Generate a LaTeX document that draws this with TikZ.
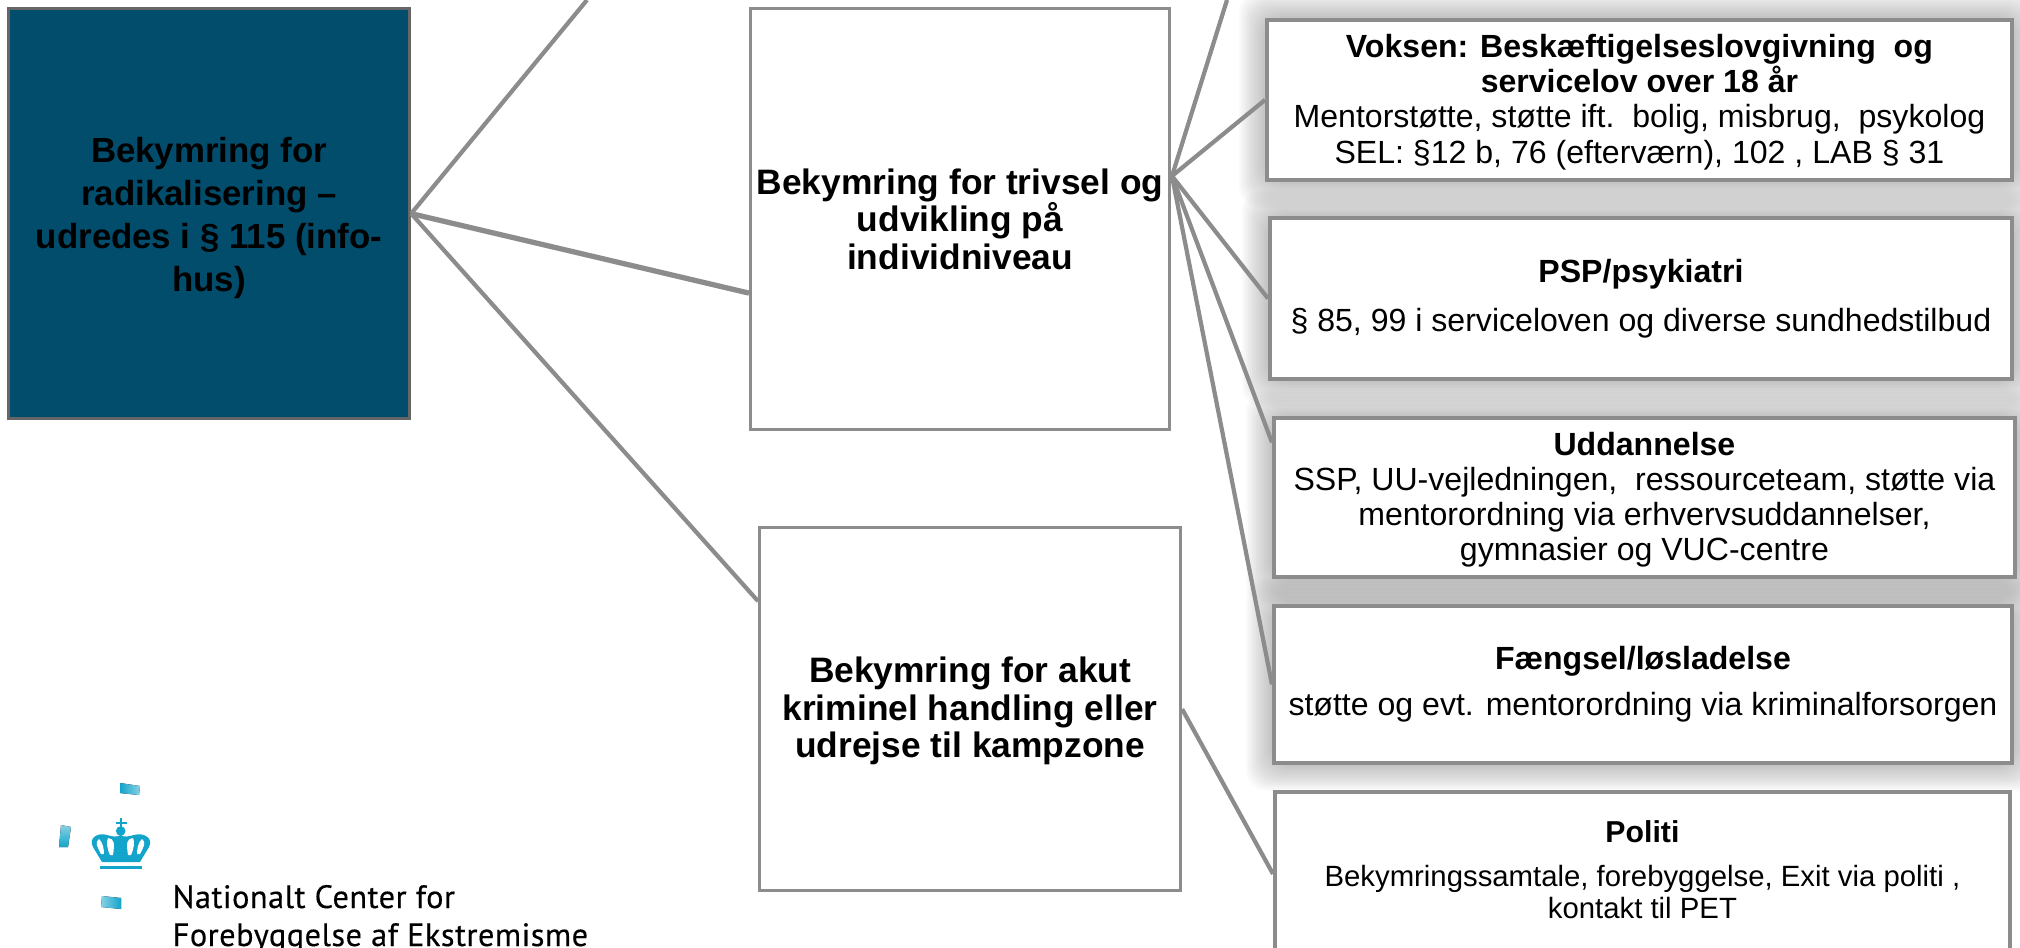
\documentclass[tikz,border=0pt]{standalone}
\usepackage{fontspec}
\setmainfont{Liberation Sans}
\newfontfamily\logofont[FakeBold=0.3, LetterSpace=1.5]{PT Sans}
\usepackage{tikz}
\usetikzlibrary{backgrounds}
\usetikzlibrary{calc}
\usetikzlibrary{positioning}

\definecolor{rootblue}{HTML}{024C6C}
\definecolor{boxgray}{HTML}{8C8C8C}
\definecolor{crownblue}{HTML}{12A4CB}

\tikzset{
	box/.style = {draw = boxgray, line width = 0.9pt, fill = white, align = center, inner sep = 0pt, anchor = north west},
	rootbox/.style = {box, draw = black!60, fill = rootblue, font = \bfseries\fontsize{9.9}{12.2}\selectfont},
	midbox/.style = {box, font = \bfseries\fontsize{10.05}{10.7}\selectfont},
	sidebox/.style = {box, line width = 1.1pt, font = \fontsize{9.12}{10}\selectfont},
	polbox/.style = {box, line width = 1.1pt, font = \fontsize{8.34}{9.1}\selectfont},
	link/.style = {draw = boxgray, line width = 1.2pt},
	logotext/.style = {font = \logofont\fontsize{9.2}{10.8}\selectfont, anchor = base west, inner sep = 0pt}
}

\newcommand{\glow}[1]{
	\foreach \g in {2,4,...,26} {
		\fill[black, opacity = 0.018, rounded corners = 6pt]
			($(#1.north west) + (-\g, -\g)$) rectangle ($(#1.south east) + (\g, \g)$);
	}
}

\begin{document}
\begin{tikzpicture}[x = 0.01cm, y = -0.01cm]
	\useasboundingbox (0, 0) rectangle (2020, 947);
	\clip (0, 0) rectangle (2020, 947);

	% Nodes
	\node[rootbox, minimum width = 401*0.01cm, minimum height = 410*0.01cm] (root) at (7, 7) {\rule{0pt}{9.7pt}Bekymring for\\radikalisering --\\udredes i § 115 (info-\\hus)};
	\node[midbox, minimum width = 419*0.01cm, minimum height = 421*0.01cm] (trivsel) at (749, 7) {Bekymring for trivsel og\\udvikling på\\individniveau};
	\node[midbox, minimum width = 421*0.01cm, minimum height = 363*0.01cm] (akut) at (758, 526) {\rule{0pt}{8.4pt}Bekymring for akut\\kriminel handling eller\\udrejse til kampzone};
	\node[sidebox, minimum width = 745*0.01cm, minimum height = 160*0.01cm] (voksen) at (1265, 18) {\rule{0pt}{7.8pt}\textbf{Voksen: Beskæftigelseslovgivning~~og}\\\textbf{servicelov over 18 år}\\Mentorstøtte, støtte ift.~~bolig, misbrug,~~psykolog\\SEL: §12 b, 76 (efterværn), 102 , LAB § 31};
	\node[sidebox, minimum width = 742*0.01cm, minimum height = 161*0.01cm] (psp) at (1268, 216) {\textbf{PSP/psykiatri}\\[4pt]§ 85, 99 i serviceloven og diverse sundhedstilbud};
	\node[sidebox, minimum width = 741*0.01cm, minimum height = 159*0.01cm] (uddannelse) at (1272, 416) {\rule{0pt}{8pt}\textbf{Uddannelse}\\SSP, UU-vejledningen,~~ressourceteam, støtte via\\mentorordning via erhvervsuddannelser,\\gymnasier og VUC-centre};
	\node[sidebox, minimum width = 738*0.01cm, minimum height = 157*0.01cm] (faengsel) at (1272, 604) {\textbf{Fængsel/løsladelse}\\[3pt]støtte og evt. mentorordning via kriminalforsorgen};
	\node[polbox, minimum width = 735*0.01cm, minimum height = 164*0.01cm] (politi) at (1273, 790) {\textbf{\fontsize{8.6}{9.1}\selectfont Politi}\\[3.6pt]Bekymringssamtale, forebyggelse, Exit via politi ,\\kontakt til PET\rule[-2.6pt]{0pt}{0pt}};

	% Shadows
	\begin{scope}[on background layer]
		\glow{voksen}
		\glow{psp}
		\glow{uddannelse}
		\glow{faengsel}
	\end{scope}

	% Edges
	\coordinate (upleft) at (587, 0);
	\coordinate (upright) at (1227, 0);
	\coordinate (fan) at (1172, 176);
	\draw[link] (root.east) to (upleft);
	\draw[link, line width = 1.5pt] (root.east) to ([yshift = -74*0.01cm]trivsel.west);
	\draw[link] (root.east) to ([yshift = 108*0.01cm]akut.west);
	\draw[link] (fan) to (upright);
	\draw[link] (fan) to (voksen.west);
	\draw[link] (fan) to (psp.west);
	\draw[link] (fan) to ([yshift = 55*0.01cm]uddannelse.west);
	\draw[link] (fan) to (faengsel.west);
	\draw[link] (akut.east) to (politi.west);

	% Logo
	\fill[left color = crownblue, right color = crownblue!50] (120, 783) to (140, 786) to (139, 795) to (120, 793) -- cycle;
	\fill[bottom color = crownblue, top color = crownblue!50] (61, 825) to (71, 827) to (68, 847) to (59, 847) -- cycle;
	\fill[left color = crownblue!50, right color = crownblue] (102, 896) to (121, 898) to (121, 909) to (101, 907) -- cycle;
	\fill[crownblue] (100, 866) rectangle (142, 869);
	\fill[crownblue] (119.5, 818) rectangle (122, 827);
	\fill[crownblue] (115.5, 821.5) rectangle (126.5, 824);
	\fill[crownblue] (120.7, 831) circle (4.8);
	\fill[crownblue] (102, 862) to (93, 847) .. controls (88, 838) and (98, 832) .. (107, 835)
		.. controls (112, 836) and (116, 838) .. (120.7, 835)
		.. controls (125, 838) and (129, 836) .. (134, 835)
		.. controls (143, 832) and (154, 838) .. (149, 847) to (140, 862) -- cycle;
	\fill[white] (101, 854) .. controls (98, 848) and (94, 842) .. (99, 839) .. controls (103, 842) and (104, 850) .. (104, 854) -- cycle;
	\fill[white] (140, 854) .. controls (143, 848) and (147, 842) .. (142, 839) .. controls (138, 842) and (137, 850) .. (137, 854) -- cycle;
	\fill[white] (110, 855) .. controls (107, 848) and (106, 842) .. (108, 838) .. controls (114, 839) and (115, 842) .. (113, 855) -- cycle;
	\fill[white] (131, 855) .. controls (134, 848) and (135, 842) .. (133, 838) .. controls (127, 839) and (126, 842) .. (128, 855) -- cycle;
	\node[logotext] (logoa) at (172, 908) {Nationalt Center for};
	\node[logotext] (logob) at (172, 946) {Forebyggelse af Ekstremisme};
\end{tikzpicture}
\end{document}
